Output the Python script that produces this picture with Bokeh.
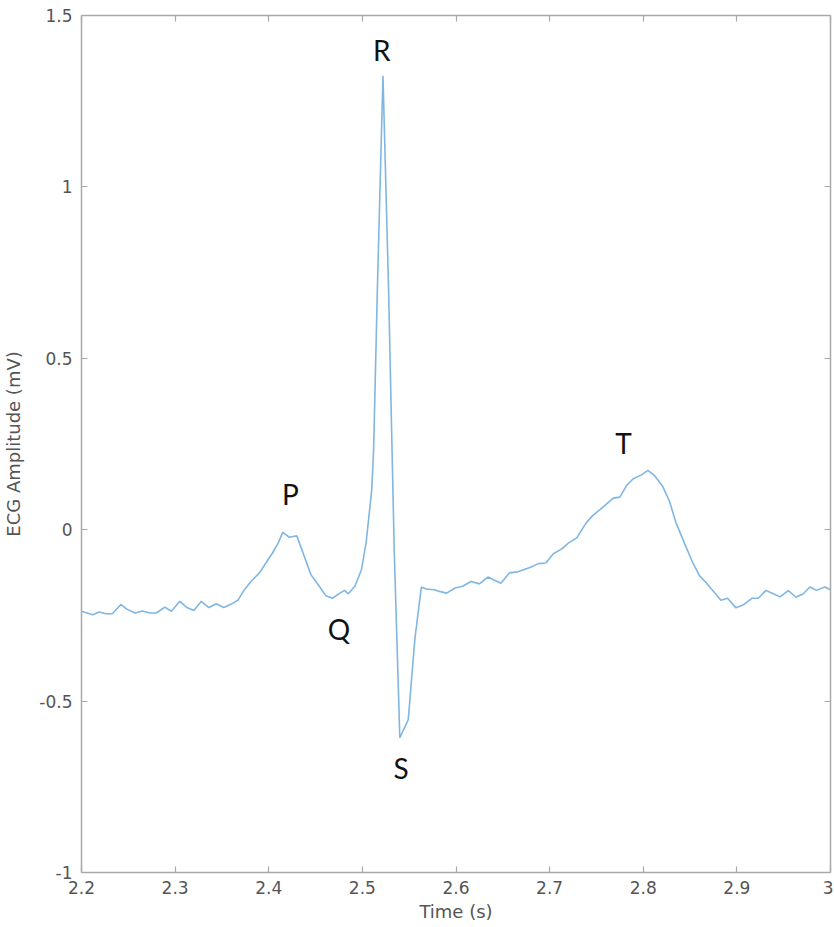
from bokeh.plotting import figure
from bokeh.models import LinearAxis, FixedTicker, Range1d, ColumnDataSource
from bokeh.embed import file_html
from bokeh.resources import INLINE
from bokeh.core.properties import value

# ECG trace (time in s, amplitude in mV)
time_s = [2.200, 2.212, 2.219, 2.226, 2.233, 2.242, 2.248, 2.257, 2.265, 2.273,
          2.280, 2.289, 2.296, 2.305, 2.312, 2.320, 2.328, 2.336, 2.344, 2.352,
          2.360, 2.367, 2.374, 2.381, 2.390, 2.397, 2.404, 2.410, 2.415, 2.422,
          2.430, 2.438, 2.445, 2.454, 2.461, 2.468, 2.476, 2.481, 2.485, 2.492,
          2.499, 2.504, 2.510, 2.512, 2.516, 2.522, 2.528, 2.534, 2.540, 2.549,
          2.556, 2.563, 2.568, 2.577, 2.582, 2.590, 2.599, 2.607, 2.616, 2.625,
          2.634, 2.648, 2.657, 2.666, 2.679, 2.688, 2.696, 2.704, 2.713, 2.720,
          2.729, 2.739, 2.746, 2.757, 2.768, 2.775, 2.782, 2.789, 2.798, 2.805,
          2.812, 2.821, 2.828, 2.835, 2.844, 2.853, 2.860, 2.867, 2.876, 2.883,
          2.890, 2.899, 2.907, 2.916, 2.923, 2.931, 2.939, 2.946, 2.955, 2.963,
          2.971, 2.978, 2.985, 2.994, 3.000]
ecg_mv = [-0.238, -0.248, -0.240, -0.245, -0.245, -0.218, -0.231, -0.243, -0.237, -0.243,
          -0.243, -0.226, -0.238, -0.209, -0.226, -0.236, -0.209, -0.227, -0.216, -0.227,
          -0.217, -0.206, -0.175, -0.151, -0.126, -0.097, -0.068, -0.039, -0.008, -0.022,
          -0.018, -0.078, -0.131, -0.165, -0.193, -0.200, -0.185, -0.177, -0.187, -0.165,
          -0.117, -0.038, 0.117, 0.233, 0.700, 1.324, 0.700, -0.058, -0.607, -0.554,
          -0.321, -0.167, -0.173, -0.175, -0.180, -0.185, -0.170, -0.165, -0.151, -0.158,
          -0.138, -0.156, -0.126, -0.123, -0.110, -0.099, -0.097, -0.070, -0.056, -0.039,
          -0.024, 0.020, 0.041, 0.066, 0.092, 0.095, 0.128, 0.148, 0.160, 0.173,
          0.158, 0.125, 0.083, 0.020, -0.039, -0.097, -0.134, -0.154, -0.183, -0.206,
          -0.200, -0.228, -0.219, -0.200, -0.200, -0.177, -0.187, -0.196, -0.178, -0.197,
          -0.187, -0.167, -0.177, -0.167, -0.175]

# wave labels
wave_names = ["P", "Q", "R", "S", "T"]
wave_x = [2.4232, 2.4750, 2.5208, 2.5413, 2.7788]
wave_y = [0.105, -0.289, 1.400, -0.694, 0.254]

x_ticks = [2.2, 2.3, 2.4, 2.5, 2.6, 2.7, 2.8, 2.9, 3.0]
x_tick_labels = ["2.2", "2.3", "2.4", "2.5", "2.6", "2.7", "2.8", "2.9", "3"]
y_ticks = [-1.0, -0.5, 0.0, 0.5, 1.0, 1.5]
y_tick_labels = ["-1", "-0.5", "0", "0.5", "1", "1.5"]

p = figure(frame_width=749, frame_height=857, output_backend="svg",
           toolbar_location=None, x_axis_location=None, y_axis_location=None,
           x_range=Range1d(2.2, 3.0), y_range=Range1d(-1.0, 1.5),
           min_border_left=81, min_border_right=3, min_border_top=15,
           min_border_bottom=52)
p.grid.visible = False
p.outline_line_color = None
p.background_fill_color = "white"
p.border_fill_color = "white"

axis_color = "#a8a8a8"
label_color = "#555555"
font = "DejaVu Sans"

def style(ax):
    ax.axis_line_color = axis_color
    ax.axis_line_width = 1.5
    ax.major_tick_line_color = axis_color
    ax.major_tick_line_width = 1.2
    ax.major_tick_in = 6
    ax.major_tick_out = 0
    ax.minor_tick_line_color = None
    ax.major_label_text_font = font
    ax.major_label_text_color = label_color
    ax.major_label_text_font_size = "17px"
    ax.axis_label_text_font = font
    ax.axis_label_text_color = label_color
    ax.axis_label_text_font_style = "normal"
    ax.axis_label_text_font_size = "18px"

xb = LinearAxis(ticker=FixedTicker(ticks=x_ticks), axis_label="Time (s)")
xb.major_label_overrides = dict(zip(x_ticks, x_tick_labels))
style(xb)
xb.major_label_standoff = 8
xb.axis_label_standoff = 4
p.add_layout(xb, "below")

yl = LinearAxis(ticker=FixedTicker(ticks=y_ticks), axis_label="ECG Amplitude (mV)")
yl.major_label_overrides = dict(zip(y_ticks, y_tick_labels))
style(yl)
yl.major_label_standoff = 9
yl.axis_label_standoff = 12
p.add_layout(yl, "left")

xt = LinearAxis(ticker=FixedTicker(ticks=x_ticks))
style(xt)
xt.major_label_overrides = {t: "" for t in x_ticks}
xt.major_label_standoff = 0
p.add_layout(xt, "above")

yr = LinearAxis(ticker=FixedTicker(ticks=y_ticks))
style(yr)
yr.major_label_overrides = {t: "" for t in y_ticks}
yr.major_label_standoff = 0
p.add_layout(yr, "right")

p.line(time_s, ecg_mv, line_color="#80b6e2", line_width=1.6)

src = ColumnDataSource(dict(x=wave_x, y=wave_y, t=wave_names))
p.text(x="x", y="y", text="t", source=src, text_align="center",
       text_baseline="middle", text_font=value("Lato"),
       text_font_size="28px", text_color="#111111")

open("out.html", "w").write(file_html(p, INLINE))
